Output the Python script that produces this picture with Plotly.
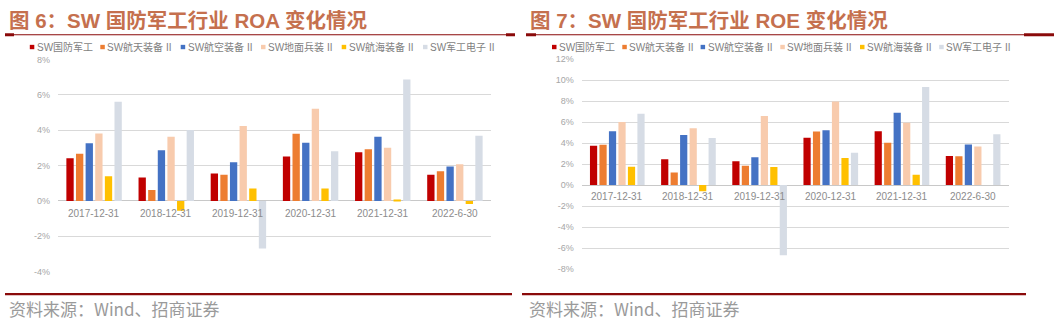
import plotly.graph_objects as go

W, H = 1057, 327

categories = ["2017-12-31", "2018-12-31", "2019-12-31", "2020-12-31", "2021-12-31", "2022-6-30"]
series_names = ["SW国防军工", "SW航天装备 II", "SW航空装备 II", "SW地面兵装 II", "SW航海装备 II", "SW军工电子 II"]
colors = ["#C00000", "#ED7D31", "#4472C4", "#F8CBAD", "#FFC000", "#D6DCE5"]

# ROA (%) per series, per category
roa_guofang = [2.41, 1.33, 1.55, 2.52, 2.76, 1.48]
roa_hangtian = [2.67, 0.62, 1.48, 3.80, 2.92, 1.68]
roa_hangkong = [3.27, 2.87, 2.19, 3.29, 3.63, 1.95]
roa_dimian = [3.82, 3.63, 4.24, 5.21, 3.01, 2.08]
roa_hanghai = [1.39, -0.55, 0.71, 0.71, 0.07, -0.18]
roa_dianzi = [5.61, 4.02, -2.70, 2.81, 6.87, 3.69]

# ROE (%) per series, per category
roe_guofang = [3.75, 2.46, 2.28, 4.52, 5.14, 2.77]
roe_hangtian = [3.85, 1.20, 1.85, 5.11, 4.03, 2.74]
roe_hangkong = [5.14, 4.77, 2.65, 5.23, 6.89, 3.88]
roe_dimian = [6.03, 5.42, 6.58, 7.97, 5.94, 3.69]
roe_hanghai = [1.75, -0.58, 1.72, 2.58, 0.98, 0.0]
roe_dianzi = [6.80, 4.49, -6.70, 3.08, 9.35, 4.86]

roa_series = [roa_guofang, roa_hangtian, roa_hangkong, roa_dimian, roa_hanghai, roa_dianzi]
roe_series = [roe_guofang, roe_hangtian, roe_hangkong, roe_dimian, roe_hanghai, roe_dianzi]

titles = ["<b>图 6：SW 国防军工行业 ROA 变化情况</b>", "<b>图 7：SW 国防军工行业 ROE 变化情况</b>"]
source_text = "资料来源：Wind、招商证券"
roa_ticks = [-4, -2, 0, 2, 4, 6, 8]
roe_ticks = [-8, -6, -4, -2, 0, 2, 4, 6, 8, 10, 12]

FONT = "Liberation Sans, Arial, Noto Sans CJK SC, sans-serif"
CJK = "Noto Sans CJK SC, Liberation Sans, sans-serif"
DARKRED = "#8A0A0A"


def px_x(v):
    return v / W


def px_y(v):
    return (H - v) / H


fig = go.Figure()

for i, name in enumerate(series_names):
    fig.add_trace(go.Bar(x=categories, y=roa_series[i], name=name, marker_color=colors[i],
                         marker_line_width=0, xaxis="x", yaxis="y", showlegend=False))
for i, name in enumerate(series_names):
    fig.add_trace(go.Bar(x=categories, y=roe_series[i], name=name, marker_color=colors[i],
                         marker_line_width=0, xaxis="x2", yaxis="y2", showlegend=False))

axis_common = dict(showgrid=True, gridcolor="#D9D9D9", gridwidth=1, zeroline=True,
                   zerolinecolor="#C8C8C8", zerolinewidth=1,
                   tickfont=dict(size=9, color="#A6A6A6", family=FONT), ticks="",
                   showline=False, ticklabelstandoff=7, tickmode="array")
xaxis_common = dict(type="category", showticklabels=False, showgrid=False, zeroline=False,
                    showline=False, range=[-0.5, 5.5])

fig.update_layout(
    width=W, height=H, margin=dict(l=0, r=0, t=0, b=0),
    paper_bgcolor="white", plot_bgcolor="white",
    barmode="group", bargap=0.2, bargroupgap=0.24,
    font=dict(family=FONT),
    xaxis=dict(domain=[px_x(58), px_x(491)], anchor="y", **xaxis_common),
    yaxis=dict(domain=[px_y(275), px_y(56.3)], range=[-4, 8], tickvals=roa_ticks,
               ticktext=[f"{v}%" for v in roa_ticks], anchor="x", **axis_common),
    xaxis2=dict(domain=[px_x(581.7), px_x(1008.7)], anchor="y2", **xaxis_common),
    yaxis2=dict(domain=[px_y(272.3), px_y(56)], range=[-8, 12], tickvals=roe_ticks,
                ticktext=[f"{v}%" for v in roe_ticks], anchor="x2", **axis_common),
)

annotations = []
shapes = []

# category labels at zero line
for xa, ya, shift in (("x", "y", -5), ("x2", "y2", -4)):
    for c in categories:
        annotations.append(dict(x=c, y=0, xref=xa, yref=ya, text=c, showarrow=False,
                                xanchor="center", yanchor="top", yshift=shift,
                                font=dict(size=10, color="#8C8C8C", family=FONT)))

# legends
legend_left = [29.8, 100.3, 180.7, 261, 341.7, 423]
legend_right = [552, 622.3, 700.6, 780.3, 860, 939.2]
for xs in (legend_left, legend_right):
    for i, name in enumerate(series_names):
        x0 = xs[i]
        shapes.append(dict(type="rect", xref="paper", yref="paper",
                           x0=px_x(x0), x1=px_x(x0 + 4.5), y0=px_y(45.6), y1=px_y(41.1),
                           fillcolor=colors[i], line=dict(width=0)))
        annotations.append(dict(x=px_x(x0 + 5), y=px_y(43.6), xref="paper", yref="paper",
                                text=name, showarrow=False, xanchor="left", yanchor="middle",
                                font=dict(size=10, color="#7F7F7F", family=FONT)))

# titles and footers
for t, x0 in zip(titles, (6.5, 527.5)):
    annotations.append(dict(x=px_x(x0), y=px_y(15.5), xref="paper", yref="paper", text=t,
                            showarrow=False, xanchor="left", yanchor="middle",
                            font=dict(size=20.5, color="#C5704E", family=FONT)))
for x0 in (6.5, 526.5):
    annotations.append(dict(x=px_x(x0), y=px_y(313), xref="paper", yref="paper",
                            text=source_text, showarrow=False, xanchor="left", yanchor="middle",
                            font=dict(size=17, color="#9A9A9A", family=CJK)))


def hline(x0, x1, y, w):
    shapes.append(dict(type="line", xref="paper", yref="paper", x0=px_x(x0), x1=px_x(x1),
                       y0=px_y(y), y1=px_y(y), line=dict(color=DARKRED, width=w)))


# title underlines (thin with thick ends)
hline(5, 515, 30.7, 1)
hline(5, 14, 30.7, 3)
hline(506, 515, 30.7, 3)
hline(526, 1054, 30.7, 1)
hline(526, 536, 30.7, 3)
hline(1024, 1054, 30.7, 3)
# footer lines
hline(5, 512, 298.3, 2.2)
hline(522, 1026, 298.3, 2.2)

fig.update_layout(annotations=annotations, shapes=shapes)

fig.write_html("out.html")
